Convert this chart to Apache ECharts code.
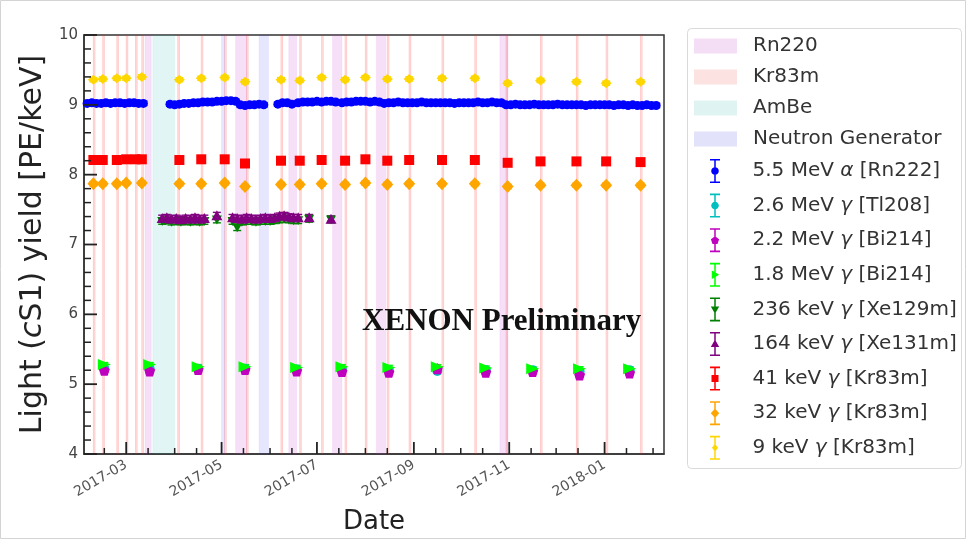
<!DOCTYPE html>
<html>
<head>
<meta charset="utf-8">
<script src="https://cdn.jsdelivr.net/npm/echarts@6/dist/echarts.min.js"></script>
<style>
  html, body { margin: 0; padding: 0; background: #fff; }
  #chart { width: 967px; height: 540px; }
</style>
</head>
<body>
<div id="chart"></div>
<script>
// ---- calibration periods (start, end) ----
const rn220Spans = [
  ['2017-03-13', '2017-03-17'], ['2017-05-10', '2017-05-17'], ['2017-06-13', '2017-06-18'],
  ['2017-07-11', '2017-07-17'], ['2017-08-08', '2017-08-14'], ['2017-10-26', '2017-10-31']
];
const kr83mSpans = [
  ['2017-02-08', '2017-02-09'], ['2017-02-14', '2017-02-15'], ['2017-02-23', '2017-02-24'],
  ['2017-03-01', '2017-03-02'], ['2017-03-07', '2017-03-08'], ['2017-03-11', '2017-03-12'],
  ['2017-04-03', '2017-04-04'], ['2017-04-18', '2017-04-19'], ['2017-05-03', '2017-05-04'],
  ['2017-05-17', '2017-05-18'], ['2017-06-08', '2017-06-09'], ['2017-06-20', '2017-06-21'],
  ['2017-07-04', '2017-07-05'], ['2017-07-19', '2017-07-20'], ['2017-08-01', '2017-08-02'],
  ['2017-08-15', '2017-08-16'], ['2017-08-29', '2017-08-30'], ['2017-09-19', '2017-09-20'],
  ['2017-10-10', '2017-10-11'], ['2017-10-30', '2017-10-31'], ['2017-11-21', '2017-11-22'],
  ['2017-12-14', '2017-12-15'], ['2018-01-02', '2018-01-03'], ['2018-01-24', '2018-01-25']
];
const ambeSpans = [['2017-03-18', '2017-04-01']];
const neutronGenSpans = [['2017-05-01', '2017-05-03'], ['2017-05-25', '2017-05-31']];

// ---- axis ticks ----
const xMin = '2017-02-02';
const xMax = '2018-02-08';
const xTickMajor = ['2017-03-01', '2017-05-01', '2017-07-01', '2017-09-01', '2017-11-01', '2018-01-01'];
const xTickMinor = ['2017-02-15', '2017-03-15', '2017-04-01', '2017-04-15', '2017-05-15', '2017-06-01',
  '2017-06-15', '2017-07-15', '2017-08-01', '2017-08-15', '2017-09-15', '2017-10-01', '2017-10-15',
  '2017-11-15', '2017-12-01', '2017-12-15', '2018-01-15', '2018-02-01'];
const yMin = 4, yMax = 10;
const yTickMajor = [4, 5, 6, 7, 8, 9, 10];
const yTickMinor = [4.2, 4.4, 4.6, 4.8, 5.2, 5.4, 5.6, 5.8, 6.2, 6.4, 6.6, 6.8, 7.2, 7.4, 7.6, 7.8,
  8.2, 8.4, 8.6, 8.8, 9.2, 9.4, 9.6, 9.8];

// ---- light yield measurements [date, PE/keV] ----
const alphaRn222 = [
  ['2017-02-04', 9.02], ['2017-02-07', 9.03], ['2017-02-10', 9.02], ['2017-02-13', 9.02], ['2017-02-16', 9.03],
  ['2017-02-19', 9.02], ['2017-02-22', 9.03], ['2017-02-25', 9.03], ['2017-02-28', 9.02], ['2017-03-03', 9.03],
  ['2017-03-06', 9.03], ['2017-03-09', 9.02], ['2017-03-12', 9.02],
  ['2017-03-29', 9.01], ['2017-04-01', 9.00], ['2017-04-04', 9.01], ['2017-04-07', 9.02], ['2017-04-10', 9.02],
  ['2017-04-13', 9.03], ['2017-04-16', 9.03], ['2017-04-19', 9.04], ['2017-04-22', 9.04], ['2017-04-25', 9.04],
  ['2017-04-28', 9.05], ['2017-05-01', 9.05], ['2017-05-04', 9.06], ['2017-05-07', 9.06], ['2017-05-10', 9.05],
  ['2017-05-13', 9.00], ['2017-05-16', 8.99], ['2017-05-19', 9.00], ['2017-05-22', 9.00], ['2017-05-25', 9.01],
  ['2017-05-28', 9.00],
  ['2017-06-06', 9.01], ['2017-06-09', 9.03], ['2017-06-12', 9.03], ['2017-06-15', 9.01],
  ['2017-06-19', 9.03], ['2017-06-22', 9.04], ['2017-06-25', 9.04], ['2017-06-28', 9.04], ['2017-07-01', 9.05],
  ['2017-07-04', 9.04], ['2017-07-07', 9.05], ['2017-07-10', 9.05], ['2017-07-13', 9.04],
  ['2017-07-17', 9.03], ['2017-07-20', 9.04], ['2017-07-23', 9.04], ['2017-07-26', 9.05], ['2017-07-29', 9.05],
  ['2017-08-01', 9.05], ['2017-08-04', 9.04], ['2017-08-07', 9.05], ['2017-08-10', 9.04],
  ['2017-08-13', 9.02], ['2017-08-16', 9.03], ['2017-08-19', 9.03], ['2017-08-22', 9.04], ['2017-08-25', 9.03],
  ['2017-08-28', 9.03], ['2017-08-31', 9.03], ['2017-09-03', 9.03], ['2017-09-06', 9.04], ['2017-09-09', 9.03],
  ['2017-09-12', 9.03], ['2017-09-15', 9.03], ['2017-09-18', 9.03], ['2017-09-21', 9.03], ['2017-09-24', 9.03],
  ['2017-09-27', 9.02], ['2017-09-30', 9.03], ['2017-10-03', 9.03], ['2017-10-06', 9.03], ['2017-10-09', 9.03],
  ['2017-10-12', 9.04], ['2017-10-15', 9.03], ['2017-10-18', 9.03], ['2017-10-21', 9.04], ['2017-10-24', 9.03],
  ['2017-10-27', 9.03],
  ['2017-10-30', 9.00], ['2017-11-02', 9.00], ['2017-11-05', 9.01], ['2017-11-08', 9.00], ['2017-11-11', 9.00],
  ['2017-11-14', 9.00], ['2017-11-17', 9.01], ['2017-11-20', 9.00], ['2017-11-23', 9.00], ['2017-11-26', 9.00],
  ['2017-11-29', 9.00], ['2017-12-02', 9.01], ['2017-12-05', 9.00], ['2017-12-08', 9.00], ['2017-12-11', 9.00],
  ['2017-12-14', 9.00], ['2017-12-17', 9.00], ['2017-12-20', 8.99], ['2017-12-23', 9.00], ['2017-12-26', 9.00],
  ['2017-12-29', 9.00], ['2018-01-01', 9.00], ['2018-01-04', 9.00], ['2018-01-07', 8.99], ['2018-01-10', 9.00],
  ['2018-01-13', 9.00], ['2018-01-16', 8.99], ['2018-01-19', 9.00], ['2018-01-22', 8.99], ['2018-01-25', 8.99],
  ['2018-01-28', 9.00], ['2018-01-31', 8.99], ['2018-02-03', 8.99]
];

// monthly Rn222 daughters / Rn220 daughters
const bi214Dates = ['2017-02-15', '2017-03-16', '2017-04-16', '2017-05-16', '2017-06-18', '2017-07-17',
  '2017-08-16', '2017-09-16', '2017-10-17', '2017-11-16', '2017-12-16', '2018-01-17'];
const tl208Values = [5.22, 5.22, 5.22, 5.22, 5.21, 5.21, 5.20, 5.19, 5.20, 5.20, 5.18, 5.20];
const bi214HighValues = [5.20, 5.19, 5.21, 5.21, 5.19, 5.18, 5.17, 5.22, 5.17, 5.18, 5.13, 5.16];
const bi214LowValues = [5.28, 5.28, 5.25, 5.25, 5.24, 5.25, 5.24, 5.25, 5.23, 5.22, 5.22, 5.22];

// activated xenon lines after neutron calibrations
const xeDates = ['2017-03-24', '2017-03-27', '2017-03-30', '2017-04-02', '2017-04-05', '2017-04-08', '2017-04-11',
  '2017-04-14', '2017-04-17', '2017-04-20', '2017-04-28',
  '2017-05-08', '2017-05-11', '2017-05-14', '2017-05-17', '2017-05-20', '2017-05-23', '2017-05-26', '2017-05-29',
  '2017-06-01', '2017-06-04', '2017-06-07', '2017-06-10', '2017-06-13', '2017-06-16', '2017-06-19',
  '2017-06-26', '2017-07-10'];
const xe129mValues = [7.33, 7.34, 7.32, 7.33, 7.32, 7.33, 7.32, 7.33, 7.32, 7.33, 7.35,
  7.33, 7.24, 7.32, 7.33, 7.33, 7.32, 7.33, 7.33, 7.33, 7.34, 7.35, 7.36, 7.35, 7.34, 7.34,
  7.36, 7.35];
const xe131mValues = [7.38, 7.39, 7.37, 7.38, 7.36, 7.38, 7.37, 7.39, 7.37, 7.38, 7.42,
  7.39, 7.38, 7.37, 7.39, 7.38, 7.37, 7.38, 7.39, 7.38, 7.39, 7.41, 7.42, 7.40, 7.39, 7.39,
  7.39, 7.37];

// Kr83m calibration lines
const krDates = ['2017-02-08', '2017-02-14', '2017-02-23', '2017-03-01', '2017-03-07', '2017-03-11',
  '2017-04-04', '2017-04-18', '2017-05-03', '2017-05-16', '2017-06-08', '2017-06-20', '2017-07-04',
  '2017-07-19', '2017-08-01', '2017-08-15', '2017-08-29', '2017-09-19', '2017-10-10', '2017-10-31',
  '2017-11-21', '2017-12-14', '2018-01-02', '2018-01-24'];
const kr41Values = [8.21, 8.21, 8.21, 8.22, 8.22, 8.22, 8.21, 8.22, 8.22, 8.16, 8.20, 8.20, 8.21,
  8.20, 8.22, 8.20, 8.21, 8.21, 8.21, 8.17, 8.19, 8.19, 8.19, 8.18];
const kr32Values = [7.87, 7.87, 7.87, 7.88, '-', 7.88, 7.87, 7.87, 7.88, 7.83, 7.86, 7.86, 7.87,
  7.86, 7.88, 7.86, 7.87, 7.87, 7.87, 7.83, 7.85, 7.85, 7.85, 7.85];
const kr9Values = [9.36, 9.37, 9.38, 9.38, '-', 9.40, 9.36, 9.38, 9.39, 9.33, 9.36, 9.35, 9.39,
  9.36, 9.39, 9.37, 9.37, 9.38, 9.38, 9.31, 9.35, 9.33, 9.31, 9.33];

// error bar half-heights per line [PE/keV]
const errAlpha = 0.03, errTl208 = 0.03, errBi22 = 0.03, errBi18 = 0.03;
const errXe129 = 0.04, errXe131 = 0.04, errKr41 = 0.03, errKr32 = 0.03, errKr9 = 0.03;

// ---------------------------------------------------------------
const toTime = s => { const [y, m, d] = s.split('-').map(Number); return Date.UTC(y, m - 1, d); };
const pairs = (dates, vals) => dates.map((d, i) => [d, vals[i]]);
const fmtMonth = v => { const d = new Date(v); return d.getUTCFullYear() + '-' + String(d.getUTCMonth() + 1).padStart(2, '0'); };

function polygonPath(pts) {
  return 'M' + pts.map(p => p[0].toFixed(2) + ' ' + p[1].toFixed(2)).join(' L') + ' Z';
}
function regularPts(cx, cy, r, n) {
  const pts = [];
  for (let i = 0; i < n; i++) {
    const a = -Math.PI / 2 + i * 2 * Math.PI / n;
    pts.push([cx + r * Math.cos(a), cy + r * Math.sin(a)]);
  }
  return pts;
}
// marker outlines, in a 12 x 24 box centred at (6, 12)
const markerOutlines = {
  circle: regularPts(6, 12, 3.8, 16),
  pentagon: regularPts(6, 12.3, 4.3, 5),
  right: [[2.8, 7.8], [10.2, 12], [2.8, 16.2]],
  down: [[1.8, 9], [10.2, 9], [6, 16.4]],
  up: [[6, 7.6], [10.2, 15], [1.8, 15]],
  square: [[2.5, 8.5], [9.5, 8.5], [9.5, 15.5], [2.5, 15.5]],
  diamond: [[6, 7.3], [10.2, 12], [6, 16.7], [1.8, 12]],
  thin: [[6, 8], [9, 12], [6, 16], [3, 12]]
};
function errorIcon(kind) {
  const caps = 'M1 0 H11 V1.6 H1 Z M5.25 0 H6.75 V24 H5.25 Z M1 22.4 H11 V24 H1 Z ';
  return 'path://' + caps + polygonPath(markerOutlines[kind]);
}
const pentagonSymbol = 'path://' + polygonPath(regularPts(5, 5.3, 5, 5));

const measured = [
  { name: '5.5 MeV α [Rn222]', color: '#0000ff', data: alphaRn222, err: errAlpha, symbol: 'circle', size: 9, icon: 'circle' },
  { name: '2.6 MeV γ [Tl208]', color: '#00bfbf', data: pairs(bi214Dates, tl208Values), err: errTl208, symbol: 'circle', size: 10, icon: 'circle' },
  { name: '2.2 MeV γ [Bi214]', color: '#bf00bf', data: pairs(bi214Dates, bi214HighValues), err: errBi22, symbol: pentagonSymbol, size: 11, icon: 'pentagon' },
  { name: '1.8 MeV γ [Bi214]', color: '#00ff00', data: pairs(bi214Dates, bi214LowValues), err: errBi18, symbol: 'path://M0 0 L10 5 L0 10 Z', size: [13, 11], icon: 'right' },
  { name: '236 keV γ [Xe129m]', color: '#008000', data: pairs(xeDates, xe129mValues), err: errXe129, symbol: 'path://M0 0 L10 0 L5 9 Z', size: [10, 9], icon: 'down' },
  { name: '164 keV γ [Xe131m]', color: '#800080', data: pairs(xeDates, xe131mValues), err: errXe131, symbol: 'triangle', size: [11, 10], icon: 'up' },
  { name: '41 keV γ [Kr83m]', color: '#ff0000', data: pairs(krDates, kr41Values), err: errKr41, symbol: 'rect', size: 10, icon: 'square' },
  { name: '32 keV γ [Kr83m]', color: '#ffa500', data: pairs(krDates, kr32Values), err: errKr32, symbol: 'diamond', size: [12, 13], icon: 'diamond' },
  { name: '9 keV γ [Kr83m]', color: '#ffd700', data: pairs(krDates, kr9Values), err: errKr9, symbol: 'diamond', size: [11, 10], icon: 'thin' }
];

const periods = [
  { name: 'Rn220', spans: rn220Spans, fill: 'rgba(200,60,210,0.16)', edge: 'rgba(200,60,210,0.08)' },
  { name: 'Kr83m', spans: kr83mSpans, fill: 'rgba(255,40,40,0.10)', edge: 'rgba(255,40,40,0.2)' },
  { name: 'AmBe', spans: ambeSpans, fill: 'rgba(40,190,175,0.14)', edge: 'rgba(40,190,175,0.06)' },
  { name: 'Neutron Generator', spans: neutronGenSpans, fill: 'rgba(60,60,245,0.13)', edge: 'rgba(60,60,245,0.06)' }
];
const periodLegendColors = ['#f3def5', '#fde2e2', '#dff4f2', '#e2e2fb'];

const series = [];
periods.forEach(p => {
  series.push({
    name: p.name,
    type: 'custom',
    xAxisIndex: 0,
    yAxisIndex: 0,
    clip: true,
    silent: true,
    z: 1,
    encode: { x: [0, 1] },
    data: p.spans.map(s => [toTime(s[0]), toTime(s[1])]),
    renderItem: (params, api) => {
      const x0 = api.coord([api.value(0), yMin])[0];
      const x1 = api.coord([api.value(1), yMin])[0];
      const cs = params.coordSys;
      return {
        type: 'rect',
        shape: { x: x0, y: cs.y, width: Math.max(x1 - x0, 1), height: cs.height },
        style: { fill: p.fill, stroke: p.edge, lineWidth: 1 }
      };
    }
  });
});

// thin filled bar helpers
const vBar = (x, y0, y1, w, fill) => ({ type: 'rect', shape: { x: x - w / 2, y: Math.min(y0, y1), width: w, height: Math.abs(y1 - y0) }, style: { fill } });
const hBar = (x0, x1, y, w, fill) => ({ type: 'rect', shape: { x: Math.min(x0, x1), y: y - w / 2, width: Math.abs(x1 - x0), height: w }, style: { fill } });

measured.forEach(m => {
  const pts = m.data.filter(d => d[1] !== '-');
  series.push({
    name: m.name,
    type: 'custom',
    xAxisIndex: 0,
    yAxisIndex: 0,
    silent: true,
    z: 3,
    encode: { x: 0, y: 1 },
    data: pts.map(d => [toTime(d[0]), d[1], m.err]),
    renderItem: (params, api) => {
      const x = api.value(0), y = api.value(1), e = api.value(2);
      const a = api.coord([x, y + e]), b = api.coord([x, y - e]);
      const h = 4;
      return {
        type: 'group',
        children: [
          vBar(a[0], a[1], b[1], 1.4, m.color),
          hBar(a[0] - h, a[0] + h, a[1], 1.4, m.color),
          hBar(b[0] - h, b[0] + h, b[1], 1.4, m.color)
        ]
      };
    }
  });
  series.push({
    name: m.name,
    type: 'scatter',
    xAxisIndex: 0,
    yAxisIndex: 0,
    silent: true,
    z: 3,
    symbol: m.symbol,
    symbolSize: m.size,
    itemStyle: { color: m.color, opacity: 1 },
    data: pts.map(d => [toTime(d[0]), d[1]])
  });
});

// inward tick marks as thin rectangular symbols sitting on the axes
const tickColor = '#222';
const tickSeries = (name, data, size, offset) => ({
  name, type: 'scatter', xAxisIndex: 0, yAxisIndex: 0, silent: true, clip: false, z: 8,
  symbol: 'rect', symbolSize: size, symbolOffset: offset,
  itemStyle: { color: tickColor, opacity: 1 },
  data
});
series.push(tickSeries('major date ticks', xTickMajor.map(d => [toTime(d), yMin]), [1.8, 12], [0, -6]));
series.push(tickSeries('minor date ticks', xTickMinor.map(d => [toTime(d), yMin]), [1.5, 6], [0, -3]));
series.push(tickSeries('major yield ticks', yTickMajor.map(v => [toTime(xMin), v]), [13, 1.8], [6.5, 0]));
series.push(tickSeries('minor yield ticks', yTickMinor.map(v => [toTime(xMin), v]), [7, 1.5], [3.5, 0]));

const legendRich = {
  sp: { width: 11 },
  g: { fontStyle: 'italic', fontSize: 20, fontFamily: 'DejaVu Sans', color: '#333' }
};
const legendText = { color: '#333', fontSize: 20, lineHeight: 22, fontFamily: 'DejaVu Sans', rich: legendRich };
const legendFormatter = n => '{sp| }' + n.replace(/([αγ])/g, '{g|$1}');

const chart = echarts.init(document.getElementById('chart'), null, { renderer: 'canvas' });
chart.setOption({
  animation: false,
  backgroundColor: '#fff',
  grid: {
    left: 84, top: 35, right: 303, bottom: 81,
    show: true, borderColor: '#333', borderWidth: 1.5, backgroundColor: 'transparent'
  },
  xAxis: {
    type: 'value',
    min: toTime(xMin), max: toTime(xMax),
    name: 'Date', nameLocation: 'middle', nameGap: 55,
    nameTextStyle: { fontSize: 26, color: '#222', fontFamily: 'DejaVu Sans' },
    axisLine: { show: true, onZero: false, lineStyle: { color: '#333', width: 1.5 } },
    axisTick: { show: false },
    axisLabel: { show: true, rotate: 30, margin: 10, fontSize: 14, color: '#555', fontFamily: 'DejaVu Sans',
      customValues: xTickMajor.map(toTime), formatter: fmtMonth },
    splitLine: { show: false }
  },
  yAxis: {
    type: 'value',
    min: yMin, max: yMax, interval: 1,
    name: '{a|Light (}{i|c}{a|S1) yield [PE/keV]}',
    nameLocation: 'middle', nameGap: 22, nameRotate: 90,
    nameTextStyle: {
      rich: {
        a: { fontSize: 30, color: '#222', fontFamily: 'DejaVu Sans' },
        i: { fontSize: 30, color: '#222', fontFamily: 'DejaVu Sans', fontStyle: 'italic' }
      }
    },
    axisLine: { show: true, lineStyle: { color: '#333', width: 1.5 } },
    axisTick: { show: false },
    axisLabel: { fontSize: 15, color: '#444', margin: 6, fontFamily: 'DejaVu Sans' },
    splitLine: { show: false }
  },
  legend: [
    {
      orient: 'vertical', left: 694, top: 35, padding: 0, align: 'left',
      itemWidth: 43, itemHeight: 15, itemGap: 9,
      selectedMode: false,
      textStyle: legendText,
      formatter: legendFormatter,
      data: periods.map((p, i) => ({ name: p.name, icon: 'rect', itemStyle: { color: periodLegendColors[i], borderWidth: 0 } }))
    },
    {
      orient: 'vertical', left: 710, top: 159, padding: 0, align: 'left',
      itemWidth: 43, itemHeight: 24, itemGap: 10.6,
      selectedMode: false,
      textStyle: legendText,
      formatter: legendFormatter,
      data: measured.map(m => ({ name: m.name, icon: errorIcon(m.icon), itemStyle: { color: m.color, borderWidth: 0 } }))
    }
  ],
  graphic: [
    { type: 'rect', id: 'frame', z: -10, silent: true, shape: { x: 0.5, y: 0.5, width: 965, height: 538 },
      style: { fill: 'none', stroke: '#d4d4d4', lineWidth: 1 } },
    { type: 'rect', id: 'legendBox', z: -5, silent: true, shape: { x: 687.5, y: 28.5, width: 274, height: 440, r: 4 },
      style: { fill: 'none', stroke: '#dadada', lineWidth: 1 } },
    { type: 'text', id: 'stamp', z: 50, silent: true, left: 362, top: 306,
      style: { text: 'XENON Preliminary', font: 'bold 31px "Liberation Serif"', fill: '#111' } }
  ],
  series: series
});
</script>
</body>
</html>
